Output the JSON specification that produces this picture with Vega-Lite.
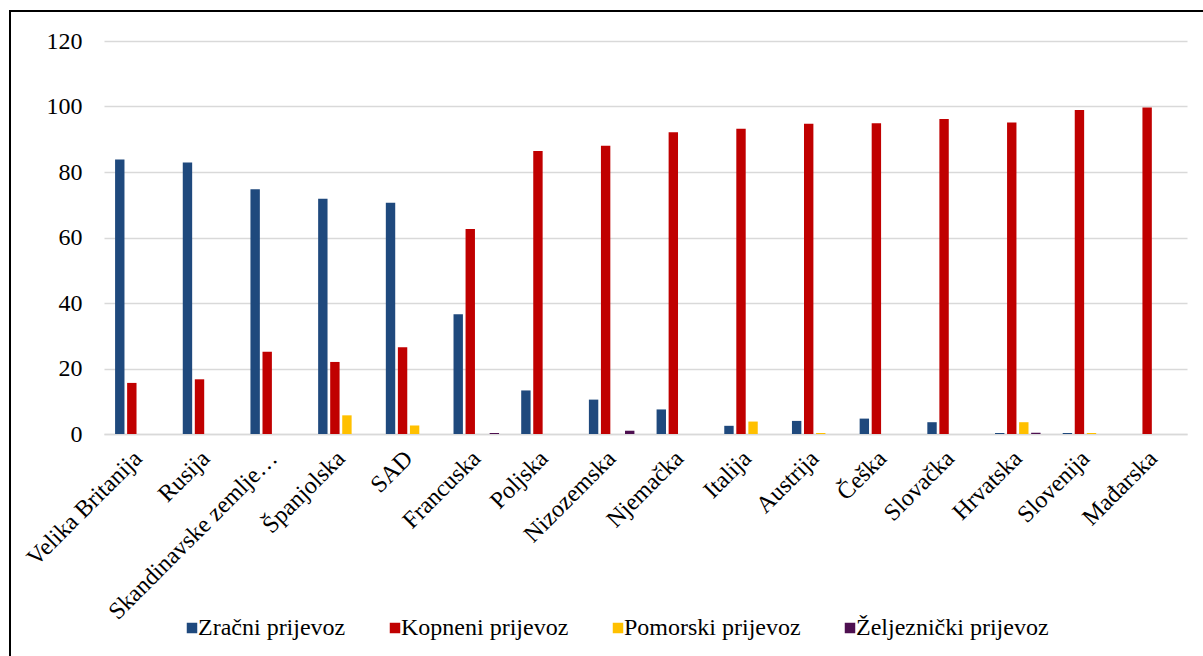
{
  "$schema": "https://vega.github.io/schema/vega-lite/v6.json",
  "width": 1194,
  "height": 646,
  "autosize": {"type": "none"},
  "padding": {"left": 10, "top": 11, "right": 0, "bottom": 0},
  "background": "white",
  "config": {
    "view": {"stroke": "#000000", "strokeWidth": 2},
    "font": "Liberation Serif"
  },
  "data": {
    "values": [
      {"country": "Velika Britanija", "mode": "Zračni prijevoz", "value": 83.8},
      {"country": "Velika Britanija", "mode": "Kopneni prijevoz", "value": 15.6},
      {"country": "Velika Britanija", "mode": "Pomorski prijevoz", "value": 0},
      {"country": "Velika Britanija", "mode": "Željeznički prijevoz", "value": 0},
      {"country": "Rusija", "mode": "Zračni prijevoz", "value": 82.9},
      {"country": "Rusija", "mode": "Kopneni prijevoz", "value": 16.7},
      {"country": "Rusija", "mode": "Pomorski prijevoz", "value": 0},
      {"country": "Rusija", "mode": "Željeznički prijevoz", "value": 0},
      {"country": "Skandinavske zemlje…", "mode": "Zračni prijevoz", "value": 74.7},
      {"country": "Skandinavske zemlje…", "mode": "Kopneni prijevoz", "value": 25.1},
      {"country": "Skandinavske zemlje…", "mode": "Pomorski prijevoz", "value": 0},
      {"country": "Skandinavske zemlje…", "mode": "Željeznički prijevoz", "value": 0},
      {"country": "Španjolska", "mode": "Zračni prijevoz", "value": 71.8},
      {"country": "Španjolska", "mode": "Kopneni prijevoz", "value": 22.0},
      {"country": "Španjolska", "mode": "Pomorski prijevoz", "value": 5.7},
      {"country": "Španjolska", "mode": "Željeznički prijevoz", "value": 0},
      {"country": "SAD", "mode": "Zračni prijevoz", "value": 70.6},
      {"country": "SAD", "mode": "Kopneni prijevoz", "value": 26.5},
      {"country": "SAD", "mode": "Pomorski prijevoz", "value": 2.6},
      {"country": "SAD", "mode": "Željeznički prijevoz", "value": 0},
      {"country": "Francuska", "mode": "Zračni prijevoz", "value": 36.6},
      {"country": "Francuska", "mode": "Kopneni prijevoz", "value": 62.6},
      {"country": "Francuska", "mode": "Pomorski prijevoz", "value": 0},
      {"country": "Francuska", "mode": "Željeznički prijevoz", "value": 0.3},
      {"country": "Poljska", "mode": "Zračni prijevoz", "value": 13.3},
      {"country": "Poljska", "mode": "Kopneni prijevoz", "value": 86.4},
      {"country": "Poljska", "mode": "Pomorski prijevoz", "value": 0},
      {"country": "Poljska", "mode": "Željeznički prijevoz", "value": 0},
      {"country": "Nizozemska", "mode": "Zračni prijevoz", "value": 10.5},
      {"country": "Nizozemska", "mode": "Kopneni prijevoz", "value": 88.0},
      {"country": "Nizozemska", "mode": "Pomorski prijevoz", "value": 0},
      {"country": "Nizozemska", "mode": "Željeznički prijevoz", "value": 1.0},
      {"country": "Njemačka", "mode": "Zračni prijevoz", "value": 7.5},
      {"country": "Njemačka", "mode": "Kopneni prijevoz", "value": 92.1},
      {"country": "Njemačka", "mode": "Pomorski prijevoz", "value": 0},
      {"country": "Njemačka", "mode": "Željeznički prijevoz", "value": 0},
      {"country": "Italija", "mode": "Zračni prijevoz", "value": 2.5},
      {"country": "Italija", "mode": "Kopneni prijevoz", "value": 93.2},
      {"country": "Italija", "mode": "Pomorski prijevoz", "value": 3.8},
      {"country": "Italija", "mode": "Željeznički prijevoz", "value": 0},
      {"country": "Austrija", "mode": "Zračni prijevoz", "value": 4.0},
      {"country": "Austrija", "mode": "Kopneni prijevoz", "value": 94.7},
      {"country": "Austrija", "mode": "Pomorski prijevoz", "value": 0.3},
      {"country": "Austrija", "mode": "Željeznički prijevoz", "value": 0},
      {"country": "Češka", "mode": "Zračni prijevoz", "value": 4.7},
      {"country": "Češka", "mode": "Kopneni prijevoz", "value": 94.9},
      {"country": "Češka", "mode": "Pomorski prijevoz", "value": 0},
      {"country": "Češka", "mode": "Željeznički prijevoz", "value": 0},
      {"country": "Slovačka", "mode": "Zračni prijevoz", "value": 3.6},
      {"country": "Slovačka", "mode": "Kopneni prijevoz", "value": 96.2},
      {"country": "Slovačka", "mode": "Pomorski prijevoz", "value": 0},
      {"country": "Slovačka", "mode": "Željeznički prijevoz", "value": 0},
      {"country": "Hrvatska", "mode": "Zračni prijevoz", "value": 0.3},
      {"country": "Hrvatska", "mode": "Kopneni prijevoz", "value": 95.1},
      {"country": "Hrvatska", "mode": "Pomorski prijevoz", "value": 3.6},
      {"country": "Hrvatska", "mode": "Željeznički prijevoz", "value": 0.4},
      {"country": "Slovenija", "mode": "Zračni prijevoz", "value": 0.3},
      {"country": "Slovenija", "mode": "Kopneni prijevoz", "value": 98.9},
      {"country": "Slovenija", "mode": "Pomorski prijevoz", "value": 0.3},
      {"country": "Slovenija", "mode": "Željeznički prijevoz", "value": 0},
      {"country": "Mađarska", "mode": "Zračni prijevoz", "value": 0},
      {"country": "Mađarska", "mode": "Kopneni prijevoz", "value": 99.7},
      {"country": "Mađarska", "mode": "Pomorski prijevoz", "value": 0},
      {"country": "Mađarska", "mode": "Željeznički prijevoz", "value": 0}
    ]
  },
  "mark": {"type": "bar"},
  "encoding": {
    "x": {
      "field": "country",
      "type": "nominal",
      "sort": null,
      "scale": {"range": [94, 1177], "paddingInner": 0, "paddingOuter": 0},
      "axis": {
        "title": null,
        "labelAngle": -45,
        "labelAlign": "right",
        "labelBaseline": "top",
        "labelPadding": 12,
        "labelOffset": -8,
        "ticks": false,
        "domainColor": "#D9D9D9",
        "domainWidth": 1.5,
        "labelFontSize": 24,
        "labelFont": "Liberation Serif",
        "labelColor": "#000000",
        "labelOverlap": false,
        "labelLimit": 0,
        "offset": -223,
        "grid": false
      }
    },
    "xOffset": {
      "field": "mode",
      "type": "nominal",
      "sort": ["Zračni prijevoz", "Kopneni prijevoz", "Pomorski prijevoz", "Željeznički prijevoz"],
      "scale": {"paddingInner": 0.22, "paddingOuter": 0.92}
    },
    "y": {
      "field": "value",
      "type": "quantitative",
      "scale": {"domain": [0, 120], "range": [423, 30], "nice": false, "zero": false},
      "axis": {
        "title": null,
        "values": [0, 20, 40, 60, 80, 100, 120],
        "domain": false,
        "ticks": false,
        "grid": true,
        "gridColor": "#D9D9D9",
        "gridWidth": 1.5,
        "labelFontSize": 24,
        "labelFont": "Liberation Serif",
        "labelColor": "#000000",
        "labelPadding": 3,
        "offset": -75
      }
    },
    "y2": {"datum": 0},
    "color": {
      "field": "mode",
      "type": "nominal",
      "sort": ["Zračni prijevoz", "Kopneni prijevoz", "Pomorski prijevoz", "Željeznički prijevoz"],
      "scale": {
        "domain": ["Zračni prijevoz", "Kopneni prijevoz", "Pomorski prijevoz", "Željeznički prijevoz"],
        "range": ["#1F497D", "#C00000", "#FFC000", "#4E1050"]
      },
      "legend": {
        "title": null,
        "orient": "none",
        "direction": "horizontal",
        "legendX": 170,
        "legendY": 605,
        "padding": 0,
        "symbolType": "square",
        "symbolSize": 110,
        "symbolStrokeWidth": 0,
        "labelFontSize": 24,
        "labelFont": "Liberation Serif",
        "labelColor": "#000000",
        "labelOffset": -6,
        "columnPadding": 37,
        "labelLimit": 0
      }
    }
  }
}
